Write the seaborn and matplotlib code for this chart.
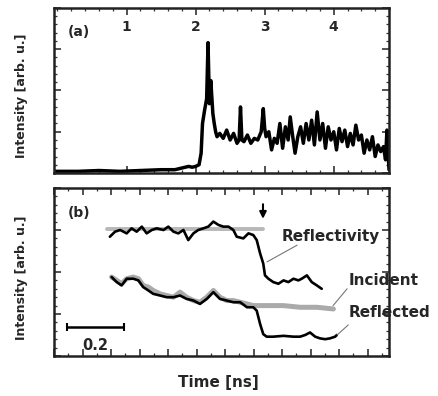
import matplotlib
matplotlib.use("Agg")
import matplotlib.pyplot as plt
from matplotlib.ticker import MultipleLocator, NullFormatter
import seaborn as sns
import numpy as np

# panel (a): full pulse, time in ns, intensity normalised
t_a = [-0.05, 0.3, 0.6, 0.9, 1.2, 1.5, 1.7, 1.8, 1.9, 1.95, 2.0, 2.05, 2.08, 2.1, 2.13,
       2.16, 2.18, 2.2, 2.22, 2.25, 2.27, 2.29, 2.31, 2.35, 2.4, 2.45, 2.5, 2.55, 2.6,
       2.63, 2.65, 2.67, 2.7, 2.75, 2.8, 2.85, 2.9, 2.95, 2.98, 3.0, 3.02, 3.06, 3.1,
       3.14, 3.18, 3.22, 3.26, 3.3, 3.34, 3.37, 3.4, 3.44, 3.48, 3.52, 3.56, 3.6, 3.64,
       3.68, 3.72, 3.76, 3.8, 3.84, 3.88, 3.92, 3.96, 4.0, 4.04, 4.08, 4.12, 4.16, 4.2,
       4.24, 4.28, 4.32, 4.36, 4.4, 4.44, 4.48, 4.52, 4.56, 4.6, 4.64, 4.68, 4.72, 4.75,
       4.77, 4.8]
i_a = [0.01, 0.01, 0.015, 0.01, 0.015, 0.02, 0.02, 0.03, 0.04, 0.035, 0.04, 0.05, 0.12, 0.3, 0.38,
       0.45, 0.79, 0.42, 0.56, 0.36, 0.3, 0.25, 0.22, 0.24, 0.21, 0.26, 0.2, 0.24, 0.18,
       0.2, 0.4, 0.2, 0.19, 0.23, 0.18, 0.21, 0.2, 0.25, 0.39, 0.27, 0.22, 0.25, 0.14,
       0.21, 0.18, 0.3, 0.15, 0.28, 0.2, 0.34, 0.24, 0.12, 0.22, 0.28, 0.18, 0.3, 0.2,
       0.32, 0.17, 0.37, 0.2, 0.3, 0.15, 0.28, 0.2, 0.25, 0.14, 0.27, 0.19, 0.26, 0.16,
       0.24, 0.17, 0.29, 0.2, 0.23, 0.12, 0.2, 0.14, 0.22, 0.1, 0.17, 0.13, 0.16, 0.08,
       0.26, 0.02]

# panel (b): zoomed section, relative time in ns
t_refl = [0.196, 0.214, 0.232, 0.255, 0.272, 0.290, 0.308, 0.325, 0.343, 0.360, 0.384, 0.401,
          0.419, 0.436, 0.454, 0.471, 0.489, 0.506, 0.524, 0.541, 0.559, 0.577, 0.594, 0.612,
          0.629, 0.641, 0.664, 0.682, 0.699, 0.711, 0.723, 0.734, 0.740, 0.752, 0.769, 0.787,
          0.805, 0.822, 0.840, 0.857, 0.869, 0.887, 0.904, 0.922, 0.939]
v_refl = [0.71, 0.74, 0.75, 0.73, 0.76, 0.74, 0.77, 0.73, 0.75, 0.76, 0.75, 0.77,
          0.74, 0.73, 0.75, 0.69, 0.73, 0.75, 0.76, 0.77, 0.80, 0.78, 0.77, 0.77,
          0.75, 0.71, 0.70, 0.73, 0.72, 0.69, 0.61, 0.55, 0.48, 0.46, 0.44, 0.43,
          0.45, 0.44, 0.46, 0.45, 0.46, 0.48, 0.44, 0.42, 0.40]

t_flat = [0.186, 0.733]
v_flat = [0.754, 0.754]

t_inc = [0.202, 0.220, 0.237, 0.255, 0.278, 0.296, 0.313, 0.331, 0.348, 0.372, 0.395, 0.419,
         0.442, 0.465, 0.489, 0.512, 0.536, 0.559, 0.582, 0.606, 0.629, 0.653, 0.677, 0.699,
         0.746, 0.805, 0.863, 0.922, 0.980]
v_inc = [0.47, 0.45, 0.43, 0.46, 0.47, 0.46, 0.42, 0.41, 0.39, 0.37, 0.36, 0.35,
         0.38, 0.35, 0.33, 0.32, 0.35, 0.39, 0.35, 0.33, 0.33, 0.32, 0.31, 0.30,
         0.30, 0.30, 0.29, 0.29, 0.28]

t_rfd = [0.202, 0.220, 0.237, 0.255, 0.278, 0.296, 0.313, 0.331, 0.348, 0.372, 0.395, 0.419,
         0.442, 0.465, 0.489, 0.512, 0.536, 0.559, 0.582, 0.606, 0.629, 0.653, 0.677, 0.699,
         0.711, 0.723, 0.734, 0.746, 0.769, 0.805, 0.840, 0.863, 0.881, 0.898, 0.916, 0.933,
         0.951, 0.968, 0.986, 0.992]
v_rfd = [0.47, 0.44, 0.42, 0.46, 0.46, 0.45, 0.41, 0.39, 0.37, 0.36, 0.35, 0.35,
         0.36, 0.34, 0.33, 0.31, 0.34, 0.38, 0.34, 0.33, 0.32, 0.32, 0.29, 0.29,
         0.27, 0.19, 0.13, 0.115, 0.115, 0.12, 0.115, 0.115, 0.125, 0.14, 0.115, 0.105,
         0.10, 0.105, 0.115, 0.125]

sns.set_style("ticks")
plt.rcParams['font.family'] = ['DejaVu Sans']
plt.rcParams['font.weight'] = 'bold'

W, H = 438, 396
fig = plt.figure(figsize=(W / 100, H / 100), dpi=100)


def frac(x0, y0, x1, y1):
    return [x0 / W, 1 - y1 / H, (x1 - x0) / W, (y1 - y0) / H]


def style_axes(ax, xmaj, xmin, ymaj, ymin):
    for s in ax.spines.values():
        s.set_linewidth(1.8)
        s.set_color('#222222')
    ax.xaxis.set_major_locator(MultipleLocator(xmaj))
    ax.xaxis.set_minor_locator(MultipleLocator(xmin))
    ax.yaxis.set_major_locator(MultipleLocator(ymaj))
    ax.yaxis.set_minor_locator(MultipleLocator(ymin))
    ax.tick_params(which='both', direction='in', top=True, right=True,
                   left=True, bottom=True, color='#333333')
    ax.tick_params(which='major', length=5, width=1.2)
    ax.tick_params(which='minor', length=2.5, width=0.9)
    ax.yaxis.set_major_formatter(NullFormatter())
    ax.set_xlabel('')
    ax.set_ylabel('')


# ---- panel (a)
ax1 = fig.add_axes(frac(54, 8, 389, 173))
sns.lineplot(x=t_a, y=i_a, ax=ax1, color='black', lw=2.5, sort=False)
ax1.set_xlim(-0.05, 4.8)
ax1.set_ylim(0, 1.0)
style_axes(ax1, 1, 0.2, 0.25, 0.05)
ax1.set_xticks([1, 2, 3, 4])
ax1.tick_params(axis='x', which='major', labeltop=True, labelbottom=False,
                pad=-19, labelsize=10)
ax1.text(0.04, 0.855, '(a)', transform=ax1.transAxes, fontsize=10,
         fontweight='bold', va='center')

# ---- panel (b)
ax2 = fig.add_axes(frac(54, 188, 389, 356))
sns.lineplot(x=t_flat, y=v_flat, ax=ax2, color='#b8b8b8', lw=2.8)
sns.lineplot(x=t_inc, y=v_inc, ax=ax2, color='#aaaaaa', lw=3.6, sort=False)
sns.lineplot(x=t_refl, y=v_refl, ax=ax2, color='black', lw=1.9, sort=False)
sns.lineplot(x=t_rfd, y=v_rfd, ax=ax2, color='black', lw=1.9, sort=False)
ax2.set_xlim(0, 1.175)
ax2.set_ylim(0, 1.0)
style_axes(ax2, 0.1, 0.05, 0.25, 0.05)
ax2.xaxis.set_major_formatter(NullFormatter())
ax2.text(0.04, 0.85, '(b)', transform=ax2.transAxes, fontsize=10,
         fontweight='bold', va='center')

# arrow marking the drop
ax2.annotate('', xy=(0.733, 0.80), xytext=(0.733, 0.92),
             arrowprops=dict(arrowstyle='-|>', color='black', lw=1.5,
                             mutation_scale=10))

# scale bar 0.2 ns
ax2.errorbar([0.146], [0.17], xerr=[0.1], color='black', lw=1.8,
             capsize=3, capthick=1.5)
ax2.text(0.146, 0.065, '0.2', ha='center', va='center', fontsize=10.5,
         fontweight='bold')

# labels with leader lines
ax2.text(0.80, 0.71, 'Reflectivity', fontsize=11, fontweight='bold', va='center')
ax2.plot([0.853, 0.747], [0.66, 0.56], color='#777777', lw=0.8)
ax2.text(1.035, 0.45, 'Incident', fontsize=11, fontweight='bold', va='center')
ax2.plot([1.028, 0.979], [0.40, 0.30], color='#777777', lw=0.8)
ax2.text(1.035, 0.26, 'Reflected', fontsize=11, fontweight='bold', va='center')
ax2.plot([1.032, 0.993], [0.185, 0.125], color='#777777', lw=0.8)

# axis titles
fig.text(22 / W, 1 - 96 / H, 'Intensity [arb. u.]', rotation=90, ha='center',
         va='center', fontsize=9, fontweight='bold')
fig.text(22 / W, 1 - 278 / H, 'Intensity [arb. u.]', rotation=90, ha='center',
         va='center', fontsize=9, fontweight='bold')
fig.text(218 / W, 1 - 383 / H, 'Time [ns]', ha='center', va='center',
         fontsize=11, fontweight='bold')

fig.savefig('out.png', dpi=100)
